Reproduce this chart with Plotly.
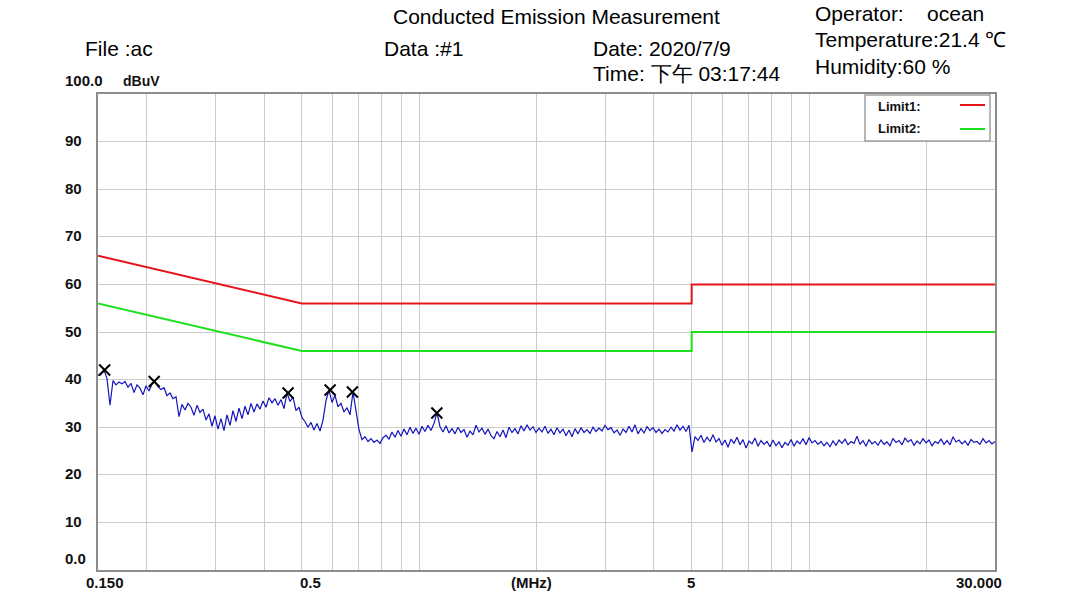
import numpy as np
import plotly.graph_objects as go

# ---- measurement data -------------------------------------------------------
F_START, F_STOP = 0.15, 30.0  # MHz

# Scan level (dBuV) over a logarithmic sweep from 0.15 MHz to 30 MHz
scan_dbuv = [
    40.8, 41.5, 42.0, 40.2, 34.6, 39.8, 38.9, 39.5, 39.1, 39.6,
    38.4, 39.2, 37.3, 38.9, 38.2, 36.8, 38.7, 37.6, 39.0, 39.6,
    38.5, 37.9, 38.3, 36.6, 37.2, 36.0, 36.4, 32.2, 34.8, 33.6,
    35.0, 34.2, 32.5, 34.6, 33.1, 33.8, 31.5, 32.8, 30.2, 32.4,
    29.6, 31.8, 29.3, 32.6, 30.4, 33.5, 31.2, 34.0, 31.8, 34.4,
    32.6, 35.0, 33.2, 34.9, 33.8, 35.5, 34.2, 36.2, 35.1, 36.0,
    34.6, 35.8, 33.9, 37.2, 35.4, 36.3, 33.5, 34.2, 32.0, 31.2,
    30.0, 31.0, 29.4, 30.8, 29.2, 31.5, 35.6, 37.8, 35.2, 36.7,
    34.3, 35.0, 33.2, 34.1, 32.6, 37.4, 33.0, 29.5, 27.4, 28.0,
    27.0, 27.6, 26.8, 27.3, 26.6, 27.8, 28.3, 27.5, 29.0, 27.9,
    29.3, 28.1, 29.6, 28.4, 30.0, 28.7, 29.8, 28.5, 30.2, 29.1,
    30.4, 29.3, 30.8, 33.0, 30.1, 29.0, 30.3, 28.8, 29.7, 28.6,
    30.0, 28.9, 29.5, 27.9, 29.2, 28.4, 30.4, 29.0, 29.8, 28.5,
    29.6, 28.2, 27.6, 29.1, 28.0, 29.4, 27.8, 30.0, 28.9, 29.7,
    28.6, 30.3, 29.2, 30.5, 29.4, 30.1, 28.9, 29.8, 29.0, 30.2,
    28.7, 29.6, 28.4, 29.9, 28.8, 29.6, 28.2, 29.4, 28.0, 29.7,
    28.6, 29.9, 28.9, 29.5, 28.7, 30.0, 29.1, 29.8, 29.2, 30.4,
    29.5, 29.9, 28.8, 29.4, 28.3, 29.6, 28.9, 30.2, 29.0, 30.5,
    28.6, 29.7, 28.8, 30.1, 29.3, 29.9, 28.9, 29.6, 28.7, 29.5,
    29.0, 30.0, 29.2, 30.5, 29.4, 30.2, 29.1, 30.4, 24.8, 28.0,
    27.2, 28.3, 26.8, 27.9, 27.0, 28.4, 26.9, 27.6, 26.2, 27.3,
    25.8, 27.5, 26.6, 27.9, 26.3, 27.4, 25.6, 27.1, 26.5, 27.7,
    26.0, 27.2, 26.4, 27.0, 25.9, 27.3, 26.1, 26.9, 25.7, 26.8,
    26.2, 27.4, 26.0, 27.1, 26.5, 27.6, 26.3, 27.8, 26.7, 27.2,
    26.4, 27.0, 26.1, 26.8, 25.9, 27.1, 26.2, 27.3, 26.6, 27.5,
    26.3, 27.0, 26.6, 28.1, 26.4, 27.2, 26.0, 27.4, 26.5, 27.0,
    26.2, 27.3, 26.4, 26.9, 26.1, 27.6, 26.8, 27.2, 26.3, 27.7,
    26.9, 27.4, 26.2, 27.1, 26.5, 27.6, 26.7, 27.3, 26.1, 27.0,
    26.6, 27.5, 26.4, 27.2, 26.3, 28.0, 26.9, 27.3, 26.5, 27.1,
    26.2, 27.4, 26.8, 27.0, 26.4, 27.6, 26.7, 27.2, 26.5, 27.0,
]
scan_freq = np.geomspace(F_START, F_STOP, len(scan_dbuv))

# Peak markers
peak_freq = [0.156, 0.209, 0.461, 0.591, 0.674, 1.11]
peak_dbuv = [42.0, 39.6, 37.2, 37.8, 37.4, 33.0]

# Limit lines: QP (Limit1) and AV (Limit2)
limit_freq = [0.15, 0.5, 5.0, 5.0, 30.0]
limit1_dbuv = [66, 56, 56, 60, 60]
limit2_dbuv = [56, 46, 46, 50, 50]

# Axis ticks
y_ticks = [10, 20, 30, 40, 50, 60, 70, 80, 90]
x_grid = [0.2, 0.3, 0.4, 0.5, 0.6, 0.7, 0.8, 0.9, 1, 2, 3, 4, 5, 6, 7, 8, 9, 10, 20]

# ---- page geometry ------------------------------------------------------------
W, H = 1087, 592
PL, PR, PT, PB = 98, 995, 94, 570  # plot box in pixels
FONT = "Arial, Liberation Sans, sans-serif"


def px(x):
    return (x - PL) / (PR - PL)


def py(y):
    return (PB - y) / (PB - PT)


# x-axis captions: (pixel x, text, anchor)
x_labels = [(105, "0.150", "center"), (310, "0.5", "center"),
            (531, "(MHz)", "center"), (691, "5", "center"),
            (1004, "30.000", "right")]

fig = go.Figure()

fig.add_trace(go.Scatter(x=limit_freq, y=limit1_dbuv, mode="lines",
                         line=dict(color="#e5141a", width=2), hoverinfo="skip"))
fig.add_trace(go.Scatter(x=limit_freq, y=limit2_dbuv, mode="lines",
                         line=dict(color="#1ee01e", width=2), hoverinfo="skip"))
fig.add_trace(go.Scatter(x=scan_freq, y=scan_dbuv, mode="lines",
                         line=dict(color="#1414bc", width=1.2)))
fig.add_trace(go.Scatter(x=peak_freq, y=peak_dbuv, mode="markers",
                         marker=dict(symbol="x-thin", size=11, color="black",
                                     line=dict(color="black", width=2))))

annotations = []


def text(x, y, s, size, bold=False, anchor="left", color="#111"):
    annotations.append(dict(
        x=px(x), y=py(y), xref="paper", yref="paper", text=s, showarrow=False,
        xanchor=anchor, yanchor="middle",
        font=dict(family=FONT, size=size, color=color,
                  weight="bold" if bold else "normal")))


# header
HDR = 21
text(556, 17, "Conducted Emission Measurement", HDR, anchor="center", color="#000")
text(83, 49, "File :ac", HDR, color="#000")
text(382, 49, "Data :#1", HDR, color="#000")
text(591, 49, "Date: 2020/7/9", HDR, color="#000")
text(591, 74, "Time: 下午 03:17:44", HDR, color="#000")
text(813, 14, "Operator:&nbsp;&nbsp;&nbsp;&nbsp;ocean", HDR, color="#000")
text(813, 40, "Temperature:21.4 ℃", HDR, color="#000")
text(813, 66, "Humidity:60 %", HDR, color="#000")

# y labels
TK = 15
text(63, 80, "100.0", TK, bold=True)
text(121, 81, "dBuV", 14, bold=True)
text(63, 558, "0.0", TK, bold=True)
for v in y_ticks:
    annotations.append(dict(
        x=px(63), y=v, xref="paper", yref="y", text=str(v), showarrow=False,
        xanchor="left", yanchor="middle", yshift=1,
        font=dict(family=FONT, size=TK, color="#111", weight="bold")))

# x labels
for xpix, s, anc in x_labels:
    text(xpix, 582, s, TK, bold=True, anchor=anc)

# legend box
shapes = [dict(type="rect", xref="paper", yref="paper",
               x0=px(865), x1=px(990), y0=py(141), y1=py(95),
               line=dict(color="#a0a0a0", width=1.5), fillcolor="white", layer="above")]
text(876, 106, "Limit1:", 13, bold=True)
text(876, 129, "Limit2:", 13, bold=True)
shapes.append(dict(type="line", xref="paper", yref="paper", x0=px(960), x1=px(985),
                   y0=py(105), y1=py(105), line=dict(color="#e5141a", width=2), layer="above"))
shapes.append(dict(type="line", xref="paper", yref="paper", x0=px(960), x1=px(985),
                   y0=py(129), y1=py(129), line=dict(color="#1ee01e", width=2), layer="above"))

fig.update_layout(
    width=W, height=H, autosize=False,
    margin=dict(l=PL, r=W - PR, t=PT, b=H - PB, pad=0),
    paper_bgcolor="white", plot_bgcolor="white",
    showlegend=False,
    annotations=annotations, shapes=shapes,
    xaxis=dict(type="log", range=[np.log10(F_START), np.log10(F_STOP)],
               tickvals=x_grid, showticklabels=False, ticks="",
               showgrid=True, gridcolor="#cccccc", gridwidth=1,
               showline=True, linecolor="#8c8c8c", linewidth=2, mirror=True,
               zeroline=False),
    yaxis=dict(range=[0, 100], tickvals=y_ticks, showticklabels=False, ticks="",
               showgrid=True, gridcolor="#cccccc", gridwidth=1,
               showline=True, linecolor="#8c8c8c", linewidth=2, mirror=True,
               zeroline=False),
)

fig.write_html("out.html")
